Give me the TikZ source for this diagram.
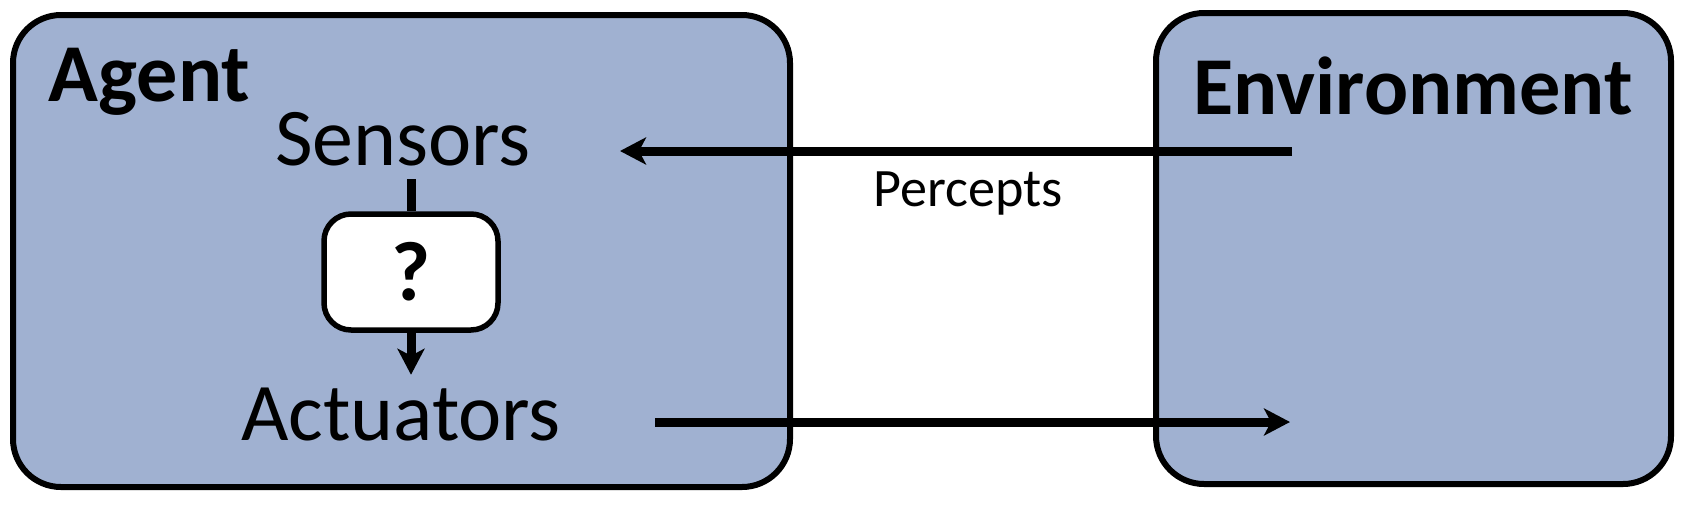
\documentclass[tikz,border=0pt]{standalone}
\usepackage{fontspec}
\setmainfont{Carlito}
\usetikzlibrary{arrows.meta}
\usetikzlibrary{positioning}
\definecolor{boxblue}{RGB}{160,177,209}
\tikzset{
world/.style={
draw, line width=0.6mm,
fill=boxblue,
rounded corners=4.8mm},
decision/.style={
draw, line width=0.55mm,
fill=white,
rounded corners=2.7mm,
minimum width=17.4mm, minimum height=11.6mm,
font=\fontsize{24}{28}\selectfont\bfseries},
title/.style={font=\fontsize{23.4}{28}\selectfont\bfseries, inner sep=0pt},
part/.style={font=\fontsize{23.3}{28}\selectfont, inner sep=1.2mm},
flow/.style={
line width=0.9mm,
-{Stealth[length=2.6mm, width=2.7mm, inset=0.7mm]}}}

\begin{document}
\begin{tikzpicture}[x=0.1mm, y=-0.1mm]
\useasboundingbox (0,0) rectangle (1705,513);
\node[world, minimum width=77.7mm, minimum height=47.2mm] (agent) at (401.5,251) {};
\node[world, minimum width=51.5mm, minimum height=47.1mm] (env) at (1413.5,248.5) {};
\node[title, anchor=base west] (agentname) at (48,101) {Agent};
\node[title, anchor=base] (envname) at (1413,114) {Environment};
\node[part, anchor=base] (sensors) at (403,165) {Sensors};
\node[part, anchor=base] (actuators) at (401,440) {Actuators};
\node[decision] (decide) at (411,272) {?};
\coordinate (percin) at (1292,151);
\coordinate (percout) at (620,151);
\coordinate (actout) at (655,422);
\coordinate (actin) at (1290,422);
\draw[line width=0.9mm] (decide.north |- sensors.south) ++(0,1) -- (decide.north);
\draw[flow] (decide.south) -- (decide.south |- actuators.north);
\draw[flow] (percin) -- node[below=0.5mm, xshift=1.2mm, font=\fontsize{15.4}{18}\selectfont] (percepts) {Percepts} (percout);
\draw[flow] (actout) -- (actin);
\end{tikzpicture}
\end{document}
